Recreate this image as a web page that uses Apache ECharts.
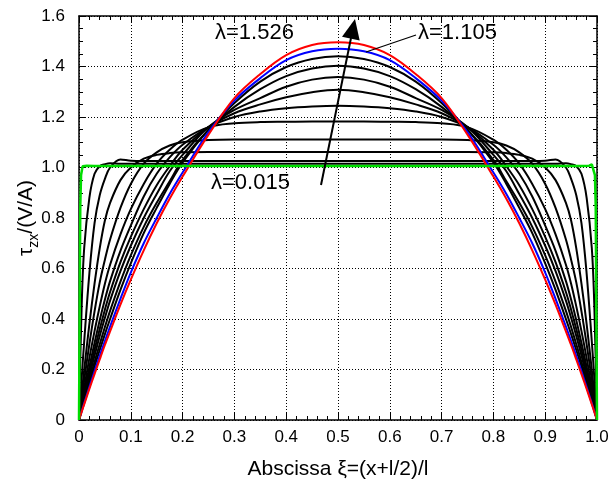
<!DOCTYPE html>
<html><head><meta charset="utf-8">
<script src="https://cdn.jsdelivr.net/npm/echarts/dist/echarts.min.js"></script>
<style>html,body{margin:0;padding:0;background:#fff}#c{width:615px;height:485px}</style>
</head><body><div id="c"></div>
<script>
// abscissa grid shared by the black / blue / red curves
const xi = [0,0.005,0.01,0.02,0.03,0.04,0.05,0.06,0.08,0.1,0.125,0.15,0.175,0.2,0.25,0.3,0.35,0.4,0.45,0.5,
            0.55,0.6,0.65,0.7,0.75,0.8,0.825,0.85,0.875,0.9,0.92,0.94,0.95,0.96,0.97,0.98,0.99,0.995,1];

// lambda = 1.526 (red)
const tauRed = [0,.031,.062,.123,.182,.240,.297,.351,.457,.556,.672,.779,.876,.964,1.13,1.275,1.37,1.445,1.485,1.496,
                1.485,1.445,1.37,1.275,1.13,.964,.876,.779,.672,.556,.457,.351,.297,.240,.182,.123,.062,.031,0];
// lambda = 1.105 (blue)
const tauBlue = [0,.033,.066,.13,.193,.254,.313,.37,.48,.584,.70,.80,.895,.98,1.14,1.265,1.354,1.425,1.46,1.47,
                 1.46,1.425,1.354,1.265,1.14,.98,.895,.80,.70,.584,.48,.37,.313,.254,.193,.13,.066,.033,0];
// intermediate lambda values (black)
const tauB1 = [0,.037,.073,.144,.212,.277,.34,.40,.515,.62,.74,.84,.935,1.02,1.15,1.255,1.34,1.398,1.43,1.441,
               1.43,1.398,1.34,1.255,1.15,1.02,.935,.84,.74,.62,.515,.40,.34,.277,.212,.144,.073,.037,0];
const tauB2 = [0,.04,.08,.157,.23,.30,.368,.432,.548,.652,.765,.86,.945,1.03,1.15,1.24,1.31,1.362,1.392,1.403,
               1.392,1.362,1.31,1.24,1.15,1.03,.945,.86,.765,.652,.548,.432,.368,.30,.23,.157,.08,.04,0];
const tauB3 = [0,.044,.088,.173,.255,.333,.405,.473,.59,.69,.80,.895,.985,1.05,1.16,1.228,1.275,1.32,1.348,1.358,
               1.348,1.32,1.275,1.228,1.16,1.05,.985,.895,.80,.69,.59,.473,.405,.333,.255,.173,.088,.044,0];
const tauB4 = [0,.049,.097,.19,.278,.36,.437,.507,.625,.725,.835,.93,1.005,1.07,1.16,1.215,1.25,1.278,1.298,1.308,
               1.298,1.278,1.25,1.215,1.16,1.07,1.005,.93,.835,.725,.625,.507,.437,.36,.278,.19,.097,.049,0];
const tauB5 = [0,.055,.108,.21,.305,.395,.477,.55,.67,.77,.885,.975,1.04,1.09,1.16,1.2,1.222,1.235,1.242,1.245,
               1.242,1.235,1.222,1.2,1.16,1.09,1.04,.975,.885,.77,.67,.55,.477,.395,.305,.21,.108,.055,0];
const tauB6 = [0,.064,.126,.245,.352,.45,.54,.615,.735,.835,.935,1.015,1.07,1.11,1.16,1.175,1.18,1.181,1.182,1.182,
               1.182,1.181,1.18,1.175,1.16,1.11,1.07,1.015,.935,.835,.735,.615,.54,.45,.352,.245,.126,.064,0];
const tauB7 = [0,.08,.158,.30,.43,.545,.635,.715,.84,.935,1.015,1.06,1.087,1.1,1.109,1.111,1.111,1.111,1.111,1.111,
               1.111,1.111,1.111,1.111,1.109,1.1,1.087,1.06,1.015,.935,.84,.715,.635,.545,.43,.30,.158,.08,0];
const tauB8 = [0,.10,.198,.38,.54,.68,.79,.86,.95,1.0,1.035,1.05,1.057,1.06,1.061,1.061,1.061,1.061,1.061,1.061,
               1.061,1.061,1.061,1.061,1.061,1.06,1.057,1.05,1.035,1.0,.95,.86,.79,.68,.54,.38,.198,.10,0];
const tauB9 = [0,.16,.31,.58,.78,.89,.955,1.0,1.032,1.027,1.026,1.026,1.026,1.026,1.026,1.026,1.026,1.026,1.026,1.026,
               1.026,1.026,1.026,1.026,1.026,1.026,1.026,1.026,1.026,1.027,1.032,1.0,.955,.89,.78,.58,.31,.16,0];
const tauB10 = [0,.44,.68,.88,.975,1.005,1.013,1.017,1.015,1.015,1.015,1.015,1.015,1.015,1.015,1.015,1.015,1.015,1.015,1.015,
                1.015,1.015,1.015,1.015,1.015,1.015,1.015,1.015,1.015,1.015,1.015,1.017,1.013,1.005,.975,.88,.68,.44,0];
// lambda = 0.015 (green) on its own abscissae
const xiGreen = [0,0.0015,0.0025,0.004,0.007,0.01,0.015,0.03,0.5,0.97,0.985,0.99,0.993,0.996,0.9975,0.9985,1];
const tauGreen = [0,.5,.85,.97,1.005,1.012,1.007,1.006,1.006,1.006,1.007,1.012,1.005,.97,.85,.5,0];

const xTickLabels = ['0','0.1','0.2','0.3','0.4','0.5','0.6','0.7','0.8','0.9','1.0'];
const yTickLabels = ['0','0.2','0.4','0.6','0.8','1.0','1.2','1.4','1.6'];

const FONT = '"Liberation Sans", Arial, sans-serif';
const chart = echarts.init(document.getElementById('c'), null, {renderer: 'canvas'});
const pairs = (xs, ys) => xs.map((x, i) => [x, ys[i]]);

const SMOOTH = 0.35;
const blacks = [tauB10, tauB9, tauB8, tauB7, tauB6, tauB5, tauB4, tauB3, tauB2, tauB1];
const series = blacks.map(v => ({
  type: 'line', data: pairs(xi, v), showSymbol: false, smooth: SMOOTH,
  lineStyle: {color: '#000', width: 2}, z: 3, silent: true
}));
series.push({type: 'line', data: pairs(xi, tauBlue), showSymbol: false, smooth: SMOOTH,
  lineStyle: {color: '#0000ff', width: 2}, z: 4});
series.push({type: 'line', data: pairs(xi, tauRed), showSymbol: false, smooth: SMOOTH,
  lineStyle: {color: '#ff0000', width: 2}, z: 5});
series.push({type: 'line', data: pairs(xiGreen, tauGreen), showSymbol: false, smooth: false,
  lineStyle: {color: '#00dd00', width: 2.5}, z: 6});

const tickCommon = {show: true, inside: true, length: 7, lineStyle: {color: '#000', width: 1}};
const minorCommon = {show: true, length: 4, lineStyle: {color: '#000', width: 1}};
const axisLine = {show: true, onZero: false, lineStyle: {color: '#000', width: 1.5}};
const gridLine = {show: true, lineStyle: {color: '#000', type: [1, 2], width: 1}};

chart.setOption({
  animation: false,
  backgroundColor: '#fff',
  grid: {left: 79, right: 18, top: 16, bottom: 63},
  xAxis: [{
    type: 'value', min: 0, max: 1, interval: 0.1,
    axisLine, axisTick: tickCommon, minorTick: Object.assign({splitNumber: 5}, minorCommon),
    splitLine: gridLine,
    axisLabel: {color: '#000', fontSize: 17, fontFamily: FONT, margin: 9,
      formatter: (v) => xTickLabels[Math.round(v * 10)]},
    name: 'Abscissa ξ=(x+l/2)/l', nameLocation: 'middle', nameGap: 39, nameMoveOverlap: false,
    nameTextStyle: {color: '#000', fontSize: 21, fontFamily: FONT}
  }, {
    type: 'value', position: 'top', min: 0, max: 1, interval: 0.1,
    axisLine, axisTick: tickCommon, minorTick: Object.assign({splitNumber: 5}, minorCommon),
    splitLine: {show: false}, axisLabel: {show: false}
  }],
  yAxis: [{
    type: 'value', min: 0, max: 1.6, interval: 0.2,
    axisLine, axisTick: tickCommon, minorTick: Object.assign({splitNumber: 4}, minorCommon),
    splitLine: gridLine,
    axisLabel: {color: '#000', fontSize: 17, fontFamily: FONT, margin: 14,
      formatter: (v) => yTickLabels[Math.round(v * 5)]},
    name: '{t|τ}{s|zx}{t|/(V/A)}', nameLocation: 'middle', nameGap: 38, nameRotate: 90, nameMoveOverlap: false,
    nameTextStyle: {color: '#000', fontFamily: FONT,
      rich: {t: {fontSize: 21, lineHeight: 30, fontFamily: FONT, color: '#000'},
             s: {fontSize: 14, lineHeight: 13, verticalAlign: 'bottom', fontFamily: FONT, color: '#000'}}}
  }, {
    type: 'value', position: 'right', min: 0, max: 1.6, interval: 0.2,
    axisLine, axisTick: tickCommon, minorTick: Object.assign({splitNumber: 4}, minorCommon),
    splitLine: {show: false}, axisLabel: {show: false}
  }],
  series,
  graphic: [
    {type: 'text', left: 215, top: 22, z: 20, style: {text: 'λ=1.526', fill: '#000', font: '22px ' + FONT}},
    {type: 'text', left: 418, top: 22, z: 20, style: {text: 'λ=1.105', fill: '#000', font: '22px ' + FONT}},
    {type: 'text', left: 211, top: 172, z: 20, style: {text: 'λ=0.015', fill: '#000', font: '22px ' + FONT}},
    {type: 'line', z: 20, shape: {x1: 416, y1: 35, x2: 366, y2: 52}, style: {stroke: '#000', lineWidth: 1.3}},
    {type: 'line', z: 20, shape: {x1: 321, y1: 185, x2: 351, y2: 38}, style: {stroke: '#000', lineWidth: 2}},
    {type: 'polygon', z: 20, shape: {points: [[355, 19], [342, 36.7], [359.7, 40.5]]}, style: {fill: '#000'}}
  ]
});
</script>
</body></html>
